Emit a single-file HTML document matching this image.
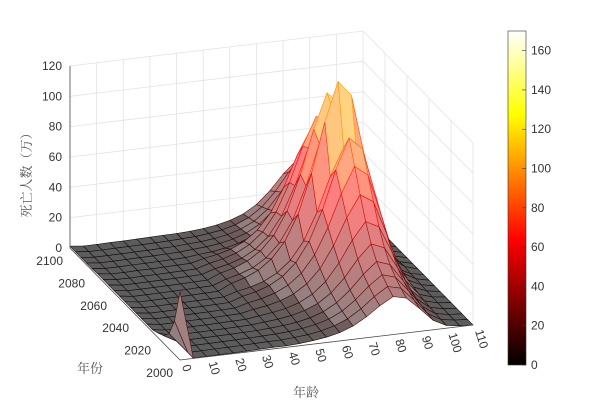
<!DOCTYPE html>
<html><head><meta charset="utf-8"><style>
html,body{margin:0;padding:0;background:#fff;}
svg{display:block;font-family:"Liberation Sans","Noto Sans CJK SC",sans-serif;}
</style></head><body>
<svg id="chart" width="599" height="410" viewBox="0 0 599 410" xmlns="http://www.w3.org/2000/svg">
<defs><linearGradient id="hotgrad" x1="0" y1="1" x2="0" y2="0">
<stop offset="0" stop-color="#000"/><stop offset="0.375" stop-color="#f00"/><stop offset="0.75" stop-color="#ff0"/><stop offset="1" stop-color="#fff"/>
</linearGradient></defs>
<g id="walls"></g>
<g id="surf"></g>
<g id="axes"></g>
<g>
<rect x="508" y="31" width="18" height="334" fill="url(#hotgrad)" stroke="#333" stroke-width="0.6"/>
<g id="cbticks"></g>
</g>
<text transform="translate(31,172) rotate(-90)" text-anchor="middle" font-size="13" fill="#555" font-family="'Liberation Serif','Noto Serif CJK SC',serif">死亡人数（万）</text>
<text x="90" y="373" text-anchor="middle" font-size="13" fill="#555" font-family="'Liberation Serif','Noto Serif CJK SC',serif">年份</text>
<text x="306" y="397" text-anchor="middle" font-size="13" fill="#555" font-family="'Liberation Serif','Noto Serif CJK SC',serif">年龄</text>
</svg>
<script>
const ages = [0,5,10,15,20,25,30,35,40,45,50,55,60,65,70,75,80,85,90,95,100,105,110];
const years = [2000,2005,2010,2015,2020,2025,2030,2035,2040,2045,2050,2055,2060,2065,2070,2075,2080,2085,2090,2095,2100];
const youngDeaths = [
[45,0.3,0.3,0.4,0.5,0.6,0.8,1],[22,0.3,0.3,0.4,0.5,0.6,0.8,1],[10,0.3,0.3,0.4,0.5,0.6,0.8,1],
[5,0.3,0.3,0.4,0.5,0.6,0.8,1],[3,0.3,0.3,0.4,0.5,0.6,0.8,1],[1.5,0.3,0.3,0.4,0.5,0.6,0.8,1],
[1.5,0.3,0.3,0.4,0.5,0.6,0.8,1],[1.5,0.3,0.3,0.4,0.5,0.6,0.8,1],[1.5,0.3,0.3,0.4,0.5,0.6,0.8,1],
[1.5,0.3,0.3,0.4,0.5,0.6,0.8,1],[1.5,0.3,0.3,0.4,0.5,0.6,0.8,1],[1.5,0.3,0.3,0.4,0.5,0.6,0.8,1],
[1.5,0.3,0.3,0.4,0.5,0.6,0.8,1],[1.5,0.3,0.3,0.4,0.5,0.6,0.8,1],[1.5,0.3,0.3,0.4,0.5,0.6,0.8,1],
[1.5,0.3,0.3,0.4,0.5,0.6,0.8,1],[1.2,0.3,0.3,0.4,0.5,0.6,0.8,1],[1.2,0.3,0.3,0.4,0.5,0.6,0.8,1],
[1.2,0.3,0.3,0.4,0.5,0.6,0.8,1],[1.2,0.3,0.3,0.4,0.5,0.6,0.8,1],[1.2,0.3,0.3,0.4,0.5,0.6,0.8,1]];
const oldDeaths = [
[1,1.5,2.3,3.5,5.5,8.8,13.8,20,25,23,15,6.3,1.8,0.5,0],
[1.1,1.7,2.5,3.9,6.2,9.8,15.4,22.4,28,25.8,16.8,7,2,0.6,0],
[1.3,1.9,2.9,4.5,7,11.2,17.6,25.6,32,29.4,19.2,8,2.2,0.6,0],
[1.5,2.2,3.3,5.2,8.1,13,20.4,29.6,37,34,22.2,9.3,2.6,0.7,0],
[1.8,2.7,4,6.3,9.9,15.8,24.8,36,45,41.4,27,11.3,3.2,0.9,0],
[2.2,3.4,5,7.8,12.3,19.6,30.8,44.8,56,51.5,33.6,14,3.9,1.1,0],
[2.8,4.2,6.3,9.8,15.4,24.5,38.5,56,70,64.4,42,17.5,4.9,1.4,0],
[3.4,5.1,7.7,11.9,18.7,29.8,46.8,68,85,78.2,51,21.3,6,1.7,0],
[4,6,9,14,22,35,55,80,100,92,60,25,7,2,0],
[3.6,5.4,8.1,12.6,19.8,31.5,49.5,72,90,82.8,54,22.5,6.3,1.8,0],
[5.2,7.8,11.7,18.2,28.6,45.5,71.5,104,130,119.6,78,32.5,9.1,2.6,0],
[4.3,6.5,9.7,15.1,23.8,37.8,59.4,86.4,108,99.4,64.8,27,7.6,2.2,0],
[4.6,6.9,10.4,16.1,25.3,40.3,63.3,92,115,105.8,69,28.8,8.1,2.3,0],
[3.8,5.7,8.6,13.3,20.9,33.3,52.3,76,95,87.4,57,23.8,6.7,1.9,0],
[3.7,5.5,8.3,12.9,20.2,32.2,50.6,73.6,92,84.6,55.2,23,6.4,1.8,0],
[3.2,4.8,7.2,11.2,17.6,28,44,64,80,73.6,48,20,5.6,1.6,0],
[2.1,2.8,4.2,6.3,9.8,15.4,24.5,38.5,56,70,52.5,24.5,7,2.1,0],
[1.8,2.4,3.6,5.4,8.4,13.2,21,33,48,60,45,21,6,1.8,0],
[1.6,2.1,3.1,4.7,7.3,11.4,18.2,28.6,41.6,52,39,18.2,5.2,1.6,0],
[1.4,1.8,2.8,4.1,6.4,10.1,16.1,25.3,36.8,46,34.5,16.1,4.6,1.4,0],
[1.2,1.6,2.4,3.6,5.6,8.8,14,22,32,40,30,14,4,1.2,0]];
const zTicks = [0,20,40,60,80,100,120];
const yearTicks = [2000,2020,2040,2060,2080,2100];
const ageTicks = [0,10,20,30,40,50,60,70,80,90,100,110];
const cbTicks = [0,20,40,60,80,100,120,140,160];

const NS='http://www.w3.org/2000/svg';
const CMAX=170;
function P(a,yr,z){const t=yr-2000;return [180+a/110*293-t/100*110, 360-a/110*35-t/100*112-z*1.517];}
function hot(v){const t=Math.max(0,Math.min(1,v/CMAX));
 return [Math.min(1,t/0.375),Math.max(0,Math.min(1,(t-0.375)/0.375)),Math.max(0,Math.min(1,(t-0.75)/0.25))];}
function rgb(c,w){return 'rgb('+c.map(x=>Math.round((x*(1-w)+w)*255)).join(',')+')';}
function mk(tag,attrs,parent){const e=document.createElementNS(NS,tag);for(const k in attrs)e.setAttribute(k,attrs[k]);parent.appendChild(e);return e;}
function pts(arr){return arr.map(p=>p[0].toFixed(1)+','+p[1].toFixed(1)).join(' ');}

const Z = years.map((y,i)=>youngDeaths[i].concat(oldDeaths[i]));

const walls=document.getElementById('walls');
for(const z of zTicks.slice(1)){
 const a=P(0,2100,z),b=P(110,2100,z),c=P(110,2000,z);
 const l=mk('polyline',{points:pts([a,b,c]),fill:'none',stroke:'#e3e3e3','stroke-width':0.8},walls);
 
 
}
for(const a of ageTicks.slice(1)){
 const l=mk('polyline',{points:pts([P(a,2100,0),P(a,2100,120)]),fill:'none',stroke:'#e3e3e3','stroke-width':0.8},walls);
 
 
}
for(const y of yearTicks.slice(0,-1)){
 const l=mk('polyline',{points:pts([P(110,y,0),P(110,y,120)]),fill:'none',stroke:'#e3e3e3','stroke-width':0.8},walls);
 
 
}

const surf=document.getElementById('surf');
const quads=[];
for(let i=0;i<years.length-1;i++)for(let j=0;j<ages.length-1;j++){
 quads.push({i,j,d:(ages[j]+2.5)/110+(years[i]-2000+2.5)/100});
}
quads.sort((p,q)=>q.d-p.d);
for(const q of quads){
 const {i,j}=q;
 const c=[[j,i],[j+1,i],[j+1,i+1],[j,i+1]];
 const pp=c.map(([jj,ii])=>P(ages[jj],years[ii],Z[ii][jj]));
 const zm=(Z[i][j]+Z[i][j+1]+Z[i+1][j]+Z[i+1][j+1])/4;
 const col=hot(zm);
 const poly=mk('polygon',{points:pts(pp),fill:rgb(col,zm<8?0.36:0.5),stroke:rgb(col,0.05),'stroke-width':0.6,'stroke-linejoin':'round'},surf);
 
 
}

const axes=document.getElementById('axes');
const txt=(x,y,s,anchor,parent)=>{const t=mk('text',{x:x,y:y,'font-size':12,fill:'#333','text-anchor':anchor},parent);t.textContent=s;return t;};
let l=mk('polyline',{points:pts([P(0,2100,0),P(0,2100,120)]),fill:'none',stroke:'#444','stroke-width':0.8},axes);


for(const z of zTicks){
 const p=P(0,2100,z);
 const t=txt(p[0]-8,p[1]+4,String(z),'end',axes);
 
 
}
l=mk('polyline',{points:pts([P(0,2100,0),P(0,2000,0),P(110,2000,0)]),fill:'none',stroke:'#444','stroke-width':0.8},axes);


for(const y of yearTicks){
 const p=P(0,y,0);
 const t=txt(p[0]-7,p[1]+17,String(y),'end',axes);
 
 
}
for(const a of ageTicks){
 const p=P(a,2000,0);
 const t=mk('text',{'font-size':12,fill:'#333','text-anchor':'start',transform:'translate('+(p[0]+2).toFixed(1)+','+(p[1]+6).toFixed(1)+') rotate(73)'},axes);
 t.textContent=String(a);
 
 
}
const cb=document.getElementById('cbticks');
for(const v of cbTicks){
 const y=365-v/CMAX*334;
 mk('line',{x1:522,x2:526,y1:y,y2:y,stroke:'#333','stroke-width':0.6},cb);
 const t=txt(531,y+4,String(v),'start',cb);
 
 
}
</script>
</body></html>
